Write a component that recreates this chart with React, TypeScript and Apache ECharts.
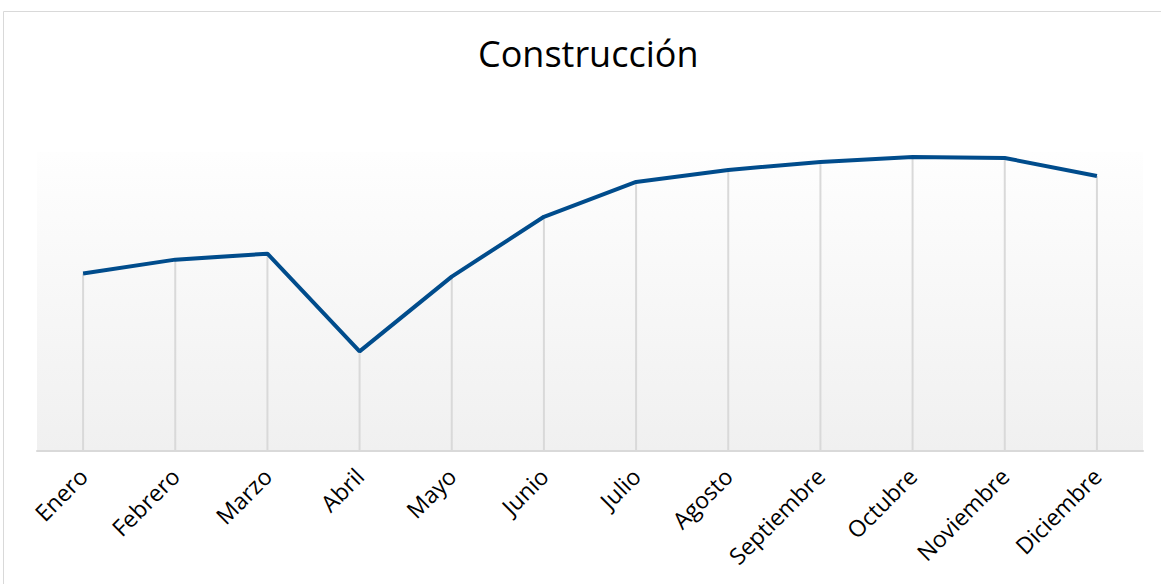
import React, { useEffect, useRef } from "react";
import * as echarts from "echarts";

const categories = ["Enero", "Febrero", "Marzo", "Abril", "Mayo", "Junio", "Julio", "Agosto", "Septiembre", "Octubre", "Noviembre", "Diciembre"];
const values = [178, 192, 198, 100, 175, 235, 270, 282, 290, 295, 294, 276];

export default function App() {
  const ref = useRef<HTMLDivElement>(null);
  useEffect(() => {
    document.body.style.margin = "0";
    const chart = echarts.init(ref.current!, null, { renderer: "svg" });
    chart.setOption({
      animation: false,
      backgroundColor: "#ffffff",
      title: {
        text: "Construcción",
        left: 473,
        top: 30,
        textStyle: { fontFamily: "Open Sans", fontSize: 36, fontWeight: "normal", color: "#000000" },
      },
      graphic: [
        {
          type: "rect",
          shape: { x: 3.5, y: 11.5, width: 1200, height: 700 },
          style: { fill: "none", stroke: "#d9d9d9", lineWidth: 1 },
          silent: true,
        },
      ],
      grid: {
        left: 37,
        right: 18,
        top: 152,
        bottom: 133,
        show: true,
        borderWidth: 0,
        backgroundColor: new echarts.graphic.LinearGradient(0, 0, 0, 1, [
          { offset: 0, color: "#fefefe" },
          { offset: 1, color: "#f0f0f0" },
        ]),
      },
      xAxis: {
        type: "category",
        data: categories,
        boundaryGap: true,
        axisLine: { show: true, lineStyle: { color: "#d9d9d9", width: 2 } },
        axisTick: { show: false },
        axisLabel: {
          rotate: 45,
          interval: 0,
          margin: 21,
          fontFamily: "Open Sans",
          fontSize: 23,
          color: "#000000",
        },
      },
      yAxis: {
        type: "value",
        min: 0,
        max: 300,
        show: false,
        splitLine: { show: false },
      },
      series: [
        {
          type: "bar",
          data: values,
          barWidth: 2,
          itemStyle: { color: "#d9d9d9" },
          silent: true,
          z: 1,
        },
        {
          type: "line",
          data: values,
          symbol: "none",
          lineStyle: { color: "#004c8c", width: 4 },
          z: 3,
        },
      ],
    });
    return () => chart.dispose();
  }, []);
  return <div ref={ref} style={{ width: 1161, height: 584 }} />;
}
